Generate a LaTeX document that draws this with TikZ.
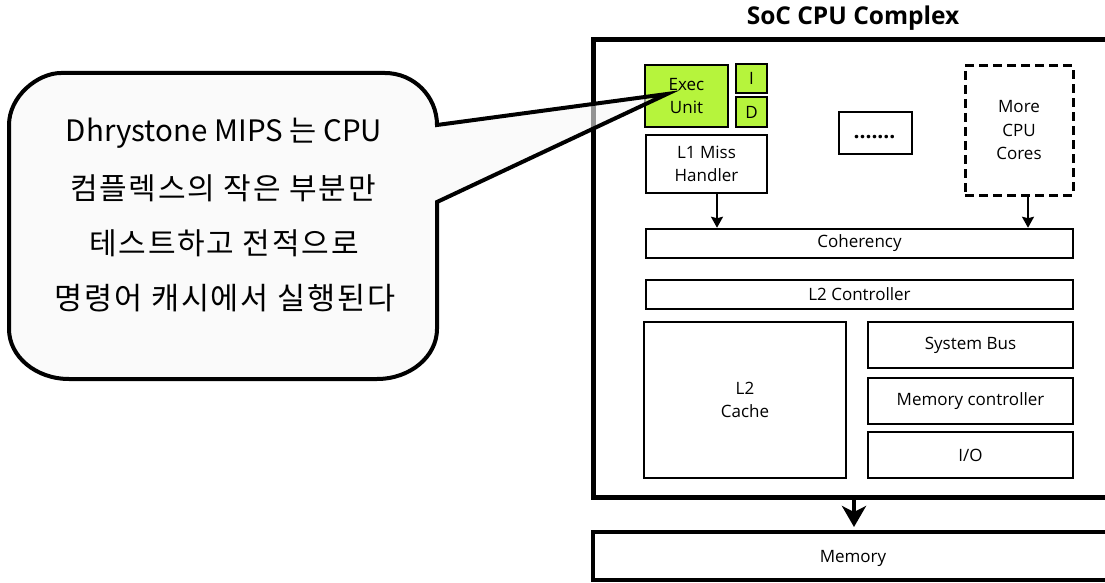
\documentclass[tikz,border=0pt]{standalone}
\usepackage{fontspec}
\setmainfont{Open Sans}
\newfontfamily\kor{Noto Sans CJK KR}
\newfontfamily\korwide[LetterSpace=6]{Noto Sans CJK KR}
\usetikzlibrary{arrows.meta}
\definecolor{execgreen}{RGB}{182,244,60}
\definecolor{notefill}{RGB}{246,246,246}
\begin{document}
\begin{tikzpicture}[x=1pt,y=-1pt,
  box/.style={draw, line width=2.5pt, rectangle, inner sep=0pt, align=center,
    font=\fontsize{17}{23.5}\selectfont},
  dashbox/.style={box, line width=3pt, dash pattern=on 9pt off 5pt},
  bigbox/.style={draw, line width=5pt, rectangle, inner sep=0pt},
  smallarr/.style={line width=2pt, -{Stealth[length=11pt,width=12pt,inset=1.5pt]}},
  bigarr/.style={line width=4pt, -{Stealth[length=21pt,width=24pt,inset=6pt]}, shorten >=3pt},
  callout/.style={draw, line width=4pt, fill=notefill, fill opacity=0.6, line join=miter},
  notetext/.style={inner sep=0pt, anchor=center}
]
\useasboundingbox (0,0) rectangle (1105,583);
\clip (0,0) rectangle (1105,583);

% title
\node[font=\bfseries\fontsize{24.5}{28}\selectfont] (title) at (853,18) {SoC CPU Complex};

% outer CPU complex box
\node[bigbox, minimum width=531pt, minimum height=457pt] (outer) at (858.5,268.5) {};

% core
\node[box, minimum width=83pt, minimum height=62pt, fill=execgreen] (exec) at (686.5,96) {Exec\\Unit};
\node[box, minimum width=31pt, minimum height=29pt, fill=execgreen] (icache) at (751.5,78.5) {I};
\node[box, minimum width=31pt, minimum height=30pt, fill=execgreen] (dcache) at (751.5,112) {D};
\node[box, minimum width=121pt, minimum height=58pt] (l1) at (706.5,164) {L1 Miss\\Handler};
\node[box, minimum width=73pt, minimum height=42pt] (dots) at (875.5,133) {};
\node[font=\bfseries\fontsize{21}{22}\selectfont, inner sep=0pt] (dotstext) at (874.5,137) {.......};
\node[dashbox, minimum width=108pt, minimum height=129pt] (more) at (1019,130.5) {More\\CPU\\Cores};

% shared blocks
\node[box, minimum width=427pt, minimum height=29pt] (coh) at (859.5,243.5) {Coherency};
\node[box, minimum width=427pt, minimum height=29pt] (l2c) at (859.5,294.5) {L2 Controller};
\node[box, minimum width=202pt, minimum height=156pt] (l2) at (745,400) {L2\\Cache};
\node[box, minimum width=205pt, minimum height=46pt] (bus) at (970.5,345) {System Bus};
\node[box, minimum width=205pt, minimum height=46pt] (memc) at (970.5,401) {Memory controller};
\node[box, minimum width=205pt, minimum height=46pt] (io) at (970.5,455) {I/O};

% memory
\node[draw, line width=4pt, inner sep=0pt, minimum width=531pt, minimum height=48pt] (mem) at (858.5,556) {};
\node[font=\fontsize{17}{22}\selectfont] (memlabel) at (853,558) {Memory};

% arrows
\draw[smallarr] ([xshift=10.5pt]l1.south) -- ([xshift=10.5pt]l1.south |- coh.north);
\draw[smallarr] ([xshift=9pt]more.south) -- ([xshift=9pt]more.south |- coh.north);
\draw[bigarr] ([xshift=-4.5pt]outer.south) -- ([xshift=-4.5pt]outer.south |- mem.north);

% callout
\coordinate (tip) at (667,94);
\draw[callout] (9,125) .. controls (9,96.3) and (37.7,73) .. (61,73)
  -- (385,73) .. controls (413.7,73) and (437,96.3) .. (437,125)
  -- (tip) -- (437,202)
  -- (437,329) .. controls (437,356.6) and (410.1,379) .. (377,379)
  -- (69,379) .. controls (35.9,379) and (9,356.6) .. (9,329) -- cycle;
\node[notetext, font=\kor\fontsize{29.5}{36}\selectfont] (note1) at (224,133) {Dhrystone MIPS 는 CPU};
\node[notetext, font=\korwide\fontsize{30}{36}\selectfont] (note2) at (223,188) {컴플렉스의 작은 부분만};
\node[notetext, font=\korwide\fontsize{30}{36}\selectfont] (note3) at (224,243) {테스트하고 전적으로};
\node[notetext, font=\korwide\fontsize{30.5}{36}\selectfont] (note4) at (225,298) {명령어 캐시에서 실행된다};
\end{tikzpicture}
\end{document}
